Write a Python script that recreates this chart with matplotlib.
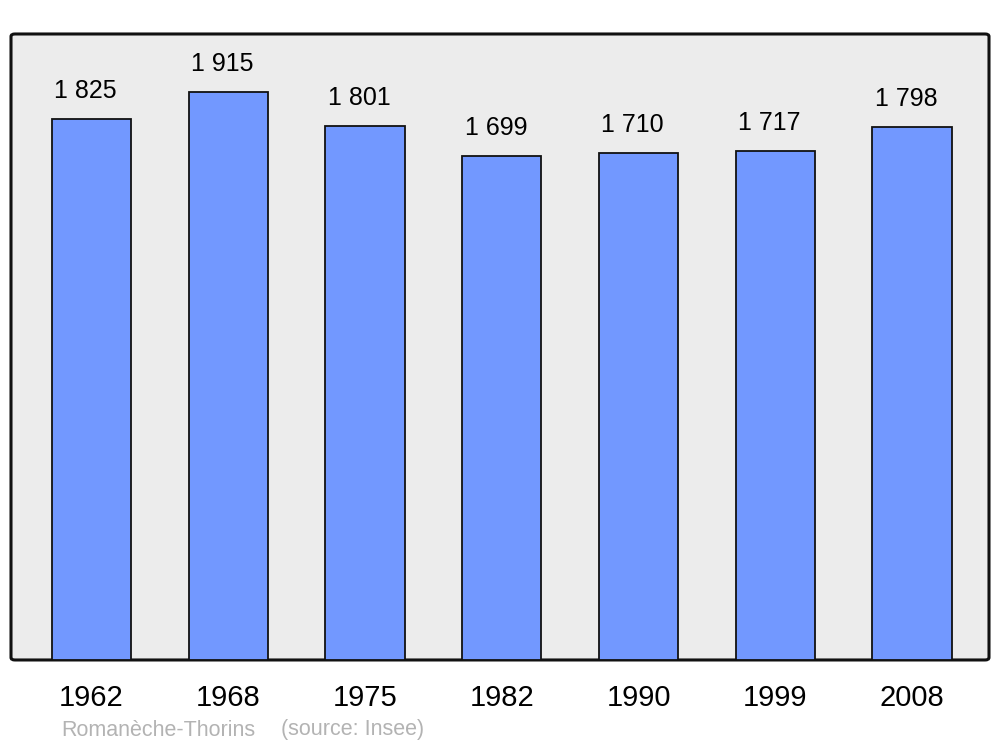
import matplotlib.pyplot as plt
from matplotlib.patches import FancyBboxPatch

years = ["1962", "1968", "1975", "1982", "1990", "1999", "2008"]
population = [1825, 1915, 1801, 1699, 1710, 1717, 1798]
value_labels = ["1 825", "1 915", "1 801", "1 699", "1 710", "1 717", "1 798"]

plt.rcParams["font.family"] = ["Liberation Sans", "DejaVu Sans"]

fig = plt.figure(figsize=(10, 7.47), dpi=100)
ax = fig.add_axes([0.011, 0.1165, 0.978, 0.838])
ax.patch.set_visible(False)

# rounded grey frame behind the bars
frame = FancyBboxPatch((0, 0), 1, 1, boxstyle="round,pad=0,rounding_size=0.004",
                       transform=ax.transAxes, facecolor="#ececec",
                       edgecolor="#111111", linewidth=2.2, clip_on=False, zorder=0)
ax.add_patch(frame)

x = list(range(len(years)))
bars = ax.bar(x, population, width=0.58, color="#7298ff", edgecolor="#111111",
              linewidth=1.3, zorder=2)

for xi, val, lab in zip(x, population, value_labels):
    ax.annotate(lab, (xi, val), xytext=(-6, 16), textcoords="offset pixels",
                ha="center", va="bottom", fontsize=18, color="black")

ax.set_xlim(-0.588, 6.562)
ax.set_ylim(0, 2110)
for s in ax.spines.values():
    s.set_visible(False)
ax.set_yticks([])
ax.set_xticks(x)
ax.set_xticklabels(years, fontsize=21)
ax.tick_params(axis="x", length=0, pad=17)

fig.text(0.061, 1 - 730 / 747, "Romanèche-Thorins", color="#b3b3b3",
         fontsize=15.5, ha="left", va="center")
fig.text(0.281, 1 - 730 / 747, "(source: Insee)", color="#b3b3b3",
         fontsize=15.5, ha="left", va="center")

fig.savefig("out.png", dpi=100)
